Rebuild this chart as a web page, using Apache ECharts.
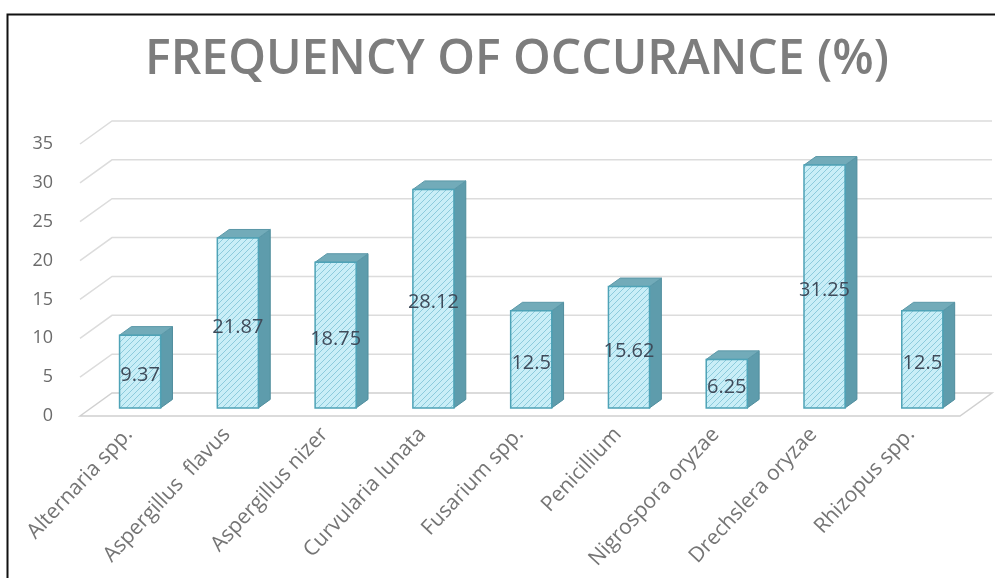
<!DOCTYPE html>
<html>
<head>
<meta charset="utf-8">
<script src="https://cdn.jsdelivr.net/npm/echarts@6/dist/echarts.min.js"></script>
<style>
  html, body { margin: 0; padding: 0; background: #fff; }
  #main { width: 995px; height: 578px; }
</style>
</head>
<body>
<div id="main"></div>
<script>
// data
const categories = ['Alternaria spp.', 'Aspergillus  flavus', 'Aspergillus nizer', 'Curvularia lunata',
  'Fusarium spp.', 'Penicillium', 'Nigrospora oryzae', 'Drechslera oryzae', 'Rhizopus spp.'];
const values = [9.37, 21.87, 18.75, 28.12, 12.5, 15.62, 6.25, 31.25, 12.5];
const yTicks = [0, 5, 10, 15, 20, 25, 30, 35];

// 3d depth of the floor / back wall, in px
const DX = 32, DY = -23;
const F0 = 0.35, F1 = 0.72;   // bar depth slot

// hatch pattern for bar fronts
function hatch() {
  var c = document.createElement('canvas');
  c.width = 6; c.height = 6;
  var g = c.getContext('2d');
  g.fillStyle = '#c9eef7';
  g.fillRect(0, 0, 6, 6);
  g.strokeStyle = '#8ccbdc';
  g.lineWidth = 1;
  g.beginPath();
  g.moveTo(0, 6); g.lineTo(6, 0);
  g.moveTo(-3, 3); g.lineTo(3, -3);
  g.moveTo(3, 9); g.lineTo(9, 3);
  g.stroke();
  return c;
}
const pattern = { image: hatch(), repeat: 'repeat' };

var myChart = echarts.init(document.getElementById('main'));

function renderWall(params, api) {
  var cs = params.coordSys;
  var v = api.value(0);
  var y = api.coord([0, v])[1];
  var xl = cs.x, xr = cs.x + cs.width;
  if (v === 0) {
    return {
      type: 'polygon',
      shape: { points: [[xl, y], [xl + DX, y + DY], [xr + DX, y + DY], [xr, y]] },
      style: { fill: '#fff', stroke: '#d0d0d0', lineWidth: 1.5 },
      z2: 1
    };
  }
  return {
    type: 'polyline',
    shape: { points: [[xl, y], [xl + DX, y + DY], [xr + DX, y + DY]] },
    style: { fill: null, stroke: '#dcdcdc', lineWidth: 1.5 },
    z2: 1
  };
}

function renderBar(params, api) {
  var i = api.value(0), v = api.value(1);
  var base = api.coord([i, 0]);
  var top = api.coord([i, v]);
  var w = api.size([1, 0])[0] * 0.42;
  var cx = base[0] + F0 * DX;
  var x0 = cx - w / 2, x1 = cx + w / 2;
  var yt = top[1] + F0 * DY, yb = base[1] + F0 * DY;
  var ddx = (F1 - F0) * DX, ddy = (F1 - F0) * DY;
  return {
    type: 'group',
    children: [
      {
        type: 'polygon',
        shape: { points: [[x1, yt], [x1 + ddx, yt + ddy], [x1 + ddx, yb + ddy], [x1, yb]] },
        style: { fill: '#5e9cac', stroke: '#4f8d9d', lineWidth: 1 }
      },
      {
        type: 'polygon',
        shape: { points: [[x0, yt], [x0 + ddx, yt + ddy], [x1 + ddx, yt + ddy], [x1, yt]] },
        style: { fill: '#72abb9', stroke: '#5b98a8', lineWidth: 1 }
      },
      {
        type: 'rect',
        shape: { x: x0, y: yt, width: w, height: yb - yt },
        style: { fill: pattern, stroke: '#4ea3b7', lineWidth: 1.5 }
      },
      {
        type: 'text',
        style: {
          x: cx, y: (yt + yb) / 2 + 4,
          text: String(v),
          align: 'center', verticalAlign: 'middle',
          fill: '#3f4b5a', font: '20px "Open Sans"'
        }
      }
    ]
  };
}

var option = {
  animation: false,
  title: {
    text: 'FREQUENCY OF OCCURANCE (%)',
    left: 512,
    textAlign: 'center',
    top: 31,
    textStyle: { fontSize: 48, fontWeight: 600, color: '#7d7d7d', fontFamily: 'Open Sans' }
  },
  graphic: [
    { type: 'polyline', shape: { points: [[7.5, 578], [7.5, 14.5], [995, 14.5]] },
      style: { stroke: '#111', lineWidth: 2, fill: null } }
  ],
  grid: { left: 80, top: 144, right: 35, bottom: 162 },
  xAxis: {
    type: 'category',
    data: categories,
    axisLine: { show: false },
    axisTick: { show: false },
    axisLabel: { rotate: 47, margin: 15, color: '#757575', fontSize: 21, fontFamily: 'Open Sans', interval: 0 }
  },
  yAxis: {
    type: 'value',
    min: 0, max: 35, interval: 5,
    axisLine: { show: false },
    axisTick: { show: false },
    splitLine: { show: false },
    axisLabel: { margin: 27, color: '#6b6b6b', fontSize: 18, fontFamily: 'Open Sans' }
  },
  series: [
    {
      type: 'custom',
      renderItem: renderWall,
      data: yTicks.map(function (t) { return [t]; }),
      z: 1,
      silent: true
    },
    {
      type: 'custom',
      renderItem: renderBar,
      data: values.map(function (v, i) { return [i, v]; }),
      encode: { x: 0, y: 1 },
      z: 2
    }
  ]
};
myChart.setOption(option);
</script>
</body>
</html>
